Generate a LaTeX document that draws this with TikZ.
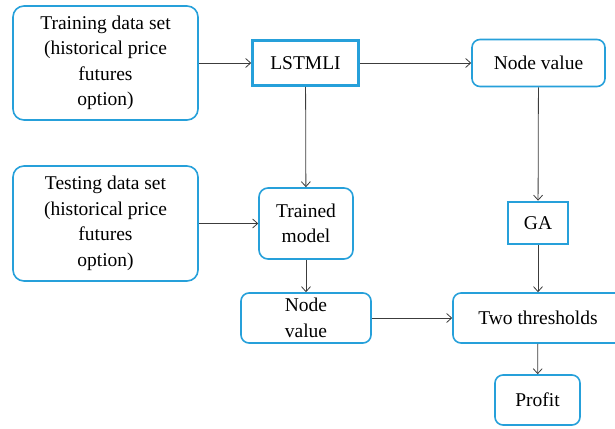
\documentclass[tikz,border=0pt]{standalone}
\usepackage{fontspec}
\setmainfont{Liberation Serif}
\usetikzlibrary{arrows.meta}
\definecolor{boxblue}{RGB}{38,160,218}
\definecolor{linegray}{RGB}{60,60,60}
\tikzset{
  roundbox/.style={draw=boxblue,line width=1.6pt,rounded corners=11pt,align=center,
    inner sep=0pt,font=\fontsize{19.5}{25.5}\selectfont},
  thickbox/.style={draw=boxblue,line width=2.6pt,align=center,inner sep=0pt,
    font=\fontsize{19.5}{25.5}\selectfont},
  flow/.style={draw=linegray,line width=0.8pt,-{Straight Barb[length=5pt,width=9pt]}}
}
\begin{document}
\begin{tikzpicture}[x=1pt,y=-1pt]
  \useasboundingbox (0,0) rectangle (615,428);

  % box centres
  \coordinate (TR) at (105.5,63);
  \coordinate (TE) at (105.5,223.5);
  \coordinate (LS) at (305.5,63);
  \coordinate (NV) at (538.5,63);
  \coordinate (TM) at (306,223.5);
  \coordinate (GA) at (538,223);
  \coordinate (NB) at (306,318);
  \coordinate (TT) at (538,318);
  \coordinate (PR) at (537.5,400);

  % boxes
  \node[roundbox,minimum width=185pt,minimum height=114pt] (train) at (TR)
    {Training data set\\(historical price\\futures\\option)};
  \node[roundbox,minimum width=185pt,minimum height=115pt] (test) at (TE)
    {Testing data set\\(historical price\\futures\\option)};
  \node[thickbox,minimum width=106pt,minimum height=45pt] (lstm) at (LS) {LSTMLI};
  \node[roundbox,rounded corners=8pt,minimum width=133pt,minimum height=47pt] (nodeval) at (NV) {Node value};
  \node[roundbox,rounded corners=9pt,minimum width=94pt,minimum height=71pt] (trained) at (TM) {Trained\\model};
  \node[thickbox,minimum width=60pt,minimum height=42pt] (ga) at (GA) {GA};
  \node[roundbox,rounded corners=8pt,minimum width=130pt,minimum height=50pt] (nodeval2) at (NB) {Node\\value};
  \node[roundbox,rounded corners=8pt,minimum width=170pt,minimum height=50pt] (thresh) at (TT) {Two thresholds};
  \node[roundbox,rounded corners=8pt,minimum width=85pt,minimum height=50pt] (profit) at (PR) {Profit};

  % connectors
  \draw[flow] (train) -- (lstm);
  \draw[flow] (lstm) -- (nodeval);
  \draw[flow] (lstm) -- (trained);
  \draw[flow] (test) -- (trained);
  \draw[flow] (nodeval) -- (ga);
  \draw[flow] (trained) -- (nodeval2);
  \draw[flow] (nodeval2) -- (thresh);
  \draw[flow] (ga) -- (thresh);
  \draw[flow] (thresh) -- (profit);
\end{tikzpicture}
\end{document}
